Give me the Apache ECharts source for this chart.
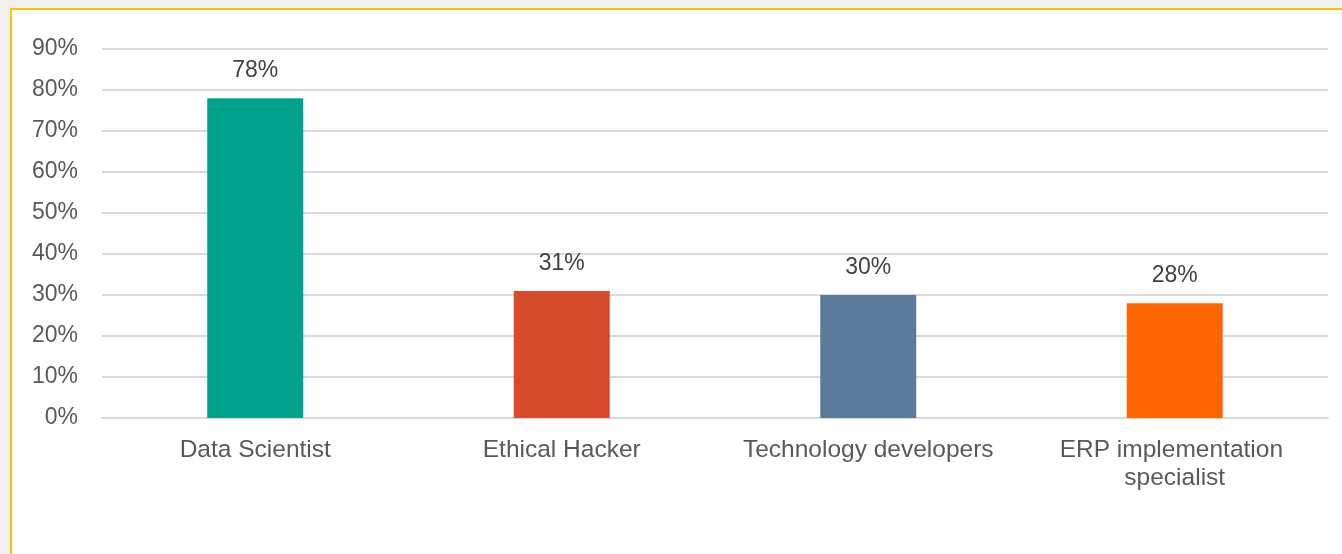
<!DOCTYPE html>
<html>
<head>
<meta charset="utf-8">
<script src="https://cdn.jsdelivr.net/npm/echarts@6/dist/echarts.min.js"></script>
<style>
  html, body { margin: 0; padding: 0; background: #f0f0f0; width: 1342px; height: 554px; overflow: hidden; }
  #panel { position: absolute; left: 10px; top: 8px; width: 1340px; height: 560px; background: #ffffff;
           border-left: 2px solid #FFC000; border-top: 2px solid #FFC000; box-sizing: border-box; }
  #chart { position: absolute; left: 0; top: 0; width: 1342px; height: 554px; }
</style>
</head>
<body>
<div id="panel"></div>
<div id="chart"></div>
<script>
const categories = ["Data Scientist", "Ethical Hacker", "Technology developers", "ERP implementation specialist"];
const values = [78, 31, 30, 28];
const barColors = ["#00A28C", "#D64B2A", "#5B7B9A", "#FF6600"];
const yMax = 90;
const yInterval = 10;

const chart = echarts.init(document.getElementById('chart'), null, { renderer: 'canvas' });
const font = "'Liberation Sans', Arial, Helvetica, sans-serif";
chart.setOption({
  backgroundColor: 'transparent',
  animation: false,
  grid: { left: 102, right: 14, top: 49, bottom: 136, containLabel: false },
  xAxis: {
    type: 'category',
    data: categories,
    axisLine: { show: true, lineStyle: { color: '#d9d9d9', width: 2 } },
    axisTick: { show: false },
    axisLabel: {
      color: '#595959', fontSize: 24.5, fontFamily: font, margin: 18,
      width: 290, overflow: 'break', lineHeight: 28, interval: 0
    }
  },
  yAxis: {
    type: 'value',
    min: 0, max: yMax, interval: yInterval,
    axisLine: { show: false },
    axisTick: { show: false },
    splitLine: { lineStyle: { color: '#d9d9d9', width: 2 } },
    axisLabel: { color: '#595959', fontSize: 23, fontFamily: font, margin: 24, formatter: '{value}%' }
  },
  series: [{
    type: 'bar',
    barWidth: 96,
    data: values.map((v, i) => ({ value: v, itemStyle: { color: barColors[i] } })),
    label: {
      show: true, position: 'top', distance: 16,
      color: '#404040', fontSize: 23, fontFamily: font,
      formatter: '{c}%'
    }
  }]
});
</script>
</body>
</html>
